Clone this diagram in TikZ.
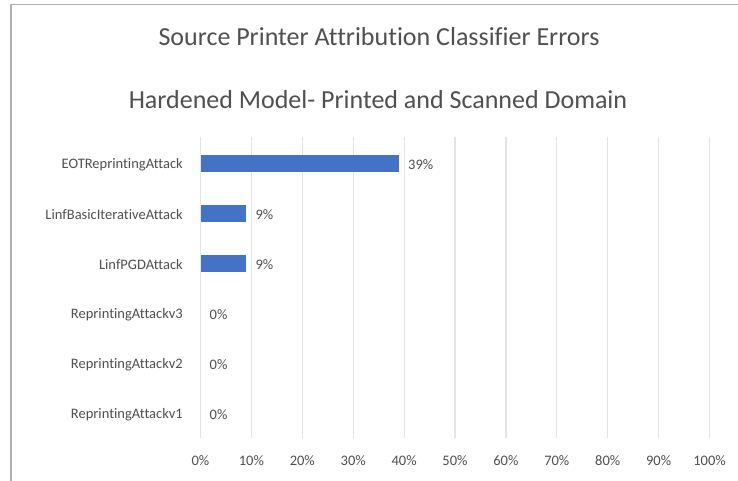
\documentclass[tikz,border=0pt]{standalone}
\usepackage{fontspec}
\setmainfont[Ligatures=NoCommon]{Carlito}
\definecolor{barblue}{HTML}{4472C4}
\definecolor{txtgray}{HTML}{505050}
\definecolor{gridgray}{HTML}{E4E4E4}
\definecolor{framegray}{HTML}{B0B0B0}
\tikzset{
  title/.style={text=txtgray, font=\fontsize{26}{30}\selectfont, inner sep=0pt},
  catlabel/.style={text=txtgray, font=\fontsize{14.5}{17}\selectfont, anchor=east, inner sep=0pt},
  ticklabel/.style={text=txtgray, font=\fontsize{14.5}{17}\selectfont, inner sep=0pt},
  vallabel/.style={text=txtgray, font=\fontsize{14.5}{17}\selectfont, anchor=west, inner sep=0pt},
  gridline/.style={draw=gridgray, line width=1.2pt},
  bar/.style={fill=barblue, draw=none},
}
\begin{document}
\begin{tikzpicture}[x=1pt, y=-1pt]
\useasboundingbox (0,0) rectangle (738,481);
\fill[white] (0,0) rectangle (738,481);
% chart frame (top and left edges visible)
\draw[framegray, line width=1.5pt] (11,481) -- (11,4.5) -- (738,4.5);

% titles
\node[title] (t1) at (379,37) {Source Printer Attribution Classifier Errors};
\node[title] (t2) at (378,100) {Hardened Model- Printed and Scanned Domain};

% vertical grid lines and axis tick labels (0% .. 100%)
\foreach \i in {0,...,10} {
  \pgfmathsetmacro{\gx}{200.5+50.9*\i}
  \draw[gridline] (\gx,137) -- (\gx,438);
  \node[ticklabel] (tick\i) at (\gx,461) {\the\numexpr\i*10\relax\%};
}

% categories: name, value (%), row centre
\foreach \name/\val/\cy [count=\k] in {
  EOTReprintingAttack/39/163.5,
  LinfBasicIterativeAttack/9/213.5,
  LinfPGDAttack/9/263.5,
  ReprintingAttackv3/0/313.5,
  ReprintingAttackv2/0/363.5,
  ReprintingAttackv1/0/413.5} {
  \node[catlabel] (cat\k) at (183,\cy+1) {\name};
  \pgfmathsetmacro{\bx}{200.5+5.09*\val}
  \ifnum\val>0
    \fill[bar] (200.5,\cy-8.5) rectangle (\bx,\cy+8.5);
  \fi
  \node[vallabel] (val\k) at (\bx+9,\cy+1) {\val\%};
}
\end{tikzpicture}
\end{document}
